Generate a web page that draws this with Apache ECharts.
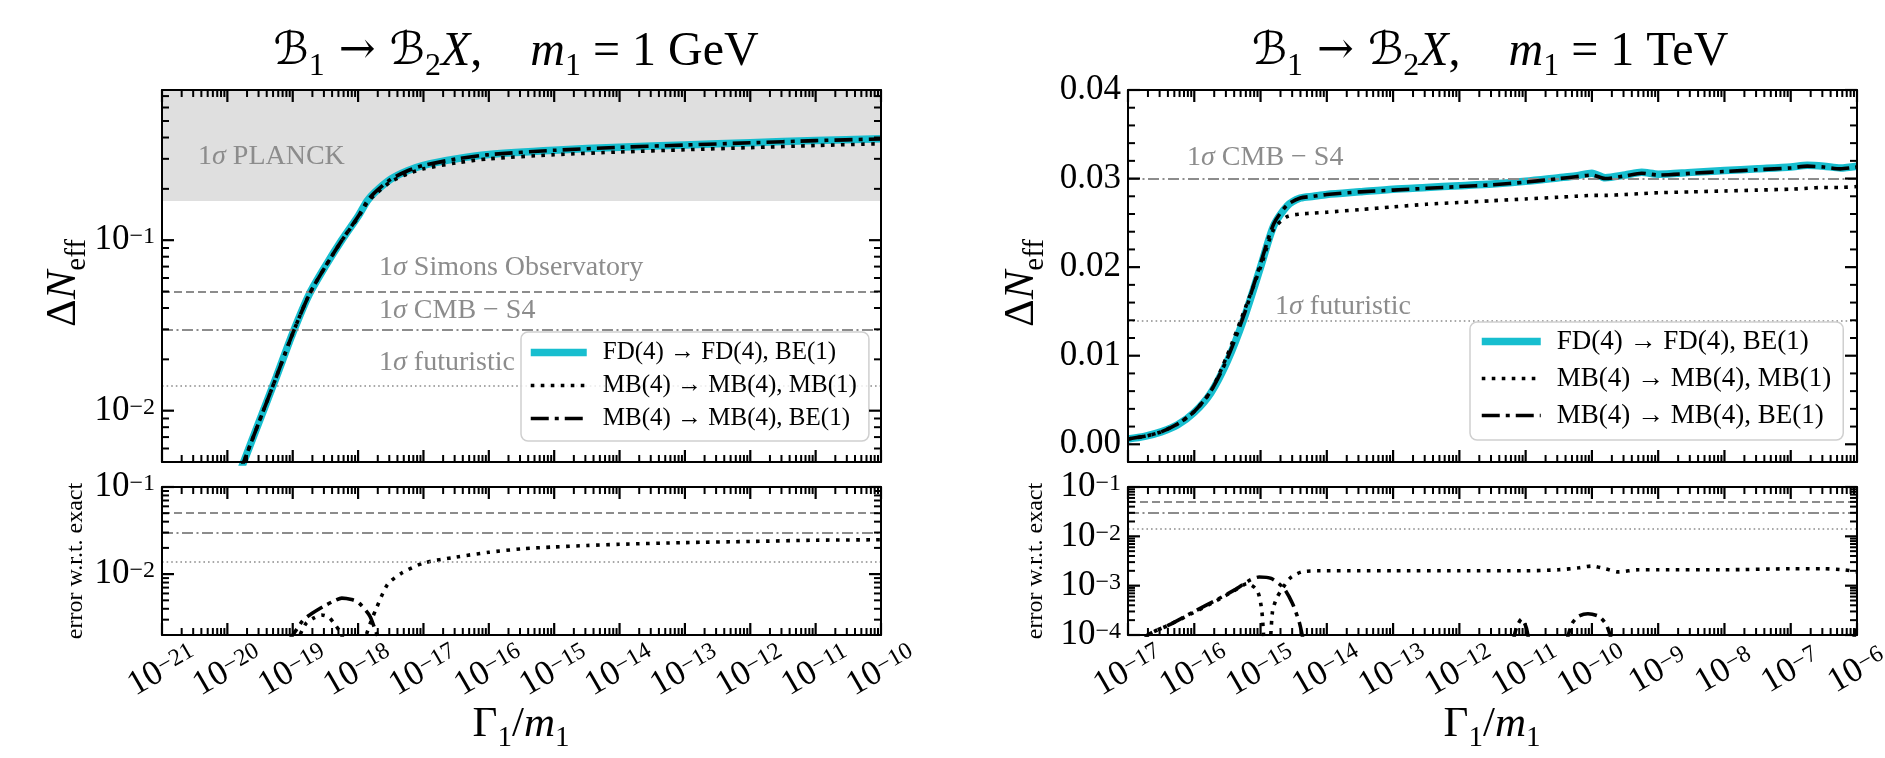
<!DOCTYPE html>
<html>
<head>
<meta charset="utf-8">
<title>ΔNeff for B1 → B2 X decays</title>
<script src="https://cdn.jsdelivr.net/npm/echarts@6.0.0/dist/echarts.min.js"></script>
<style>
  html, body { margin: 0; padding: 0; background: #ffffff; }
  #chart { width: 1885px; height: 758px; }
</style>
</head>
<body>
<div id="chart"></div>
<script>
// ---------------------------------------------------------------
// Data. x values are exponents: log10(Γ1/m1).
// ---------------------------------------------------------------

// m1 = 1 GeV, ΔNeff curves
const gevLogRate = [-20, -19.75, -19.5, -19.25, -19, -18.75, -18.5, -18.25, -18, -17.86, -17.75, -17.5, -17.25, -17, -16.5, -16, -15, -14, -13, -12, -11, -10];
const gevFD_FDBE = [0.0028, 0.005, 0.0089, 0.0158, 0.0285, 0.048, 0.0705, 0.100, 0.138, 0.170, 0.190, 0.228, 0.255, 0.275, 0.300, 0.318, 0.337, 0.351, 0.362, 0.373, 0.384, 0.393];
const gevMB_MBMB = [0.0028, 0.005, 0.0089, 0.0158, 0.0284, 0.0478, 0.0702, 0.0994, 0.136, 0.166, 0.184, 0.220, 0.244, 0.262, 0.284, 0.300, 0.317, 0.329, 0.339, 0.349, 0.359, 0.368];
const gevMB_MBBE = [0.0028, 0.005, 0.0089, 0.0158, 0.0284, 0.0478, 0.0701, 0.0995, 0.1375, 0.1695, 0.1895, 0.2275, 0.2545, 0.2745, 0.2995, 0.3175, 0.3365, 0.3505, 0.3615, 0.3725, 0.3835, 0.3925];

// m1 = 1 GeV, error w.r.t. exact
const gevErrDotRate = [-18.95, -18.8, -18.69, -18.56, -18.45, -18.38, -18.28, -18.2, -18.05, -17.92, -17.8, -17.73, -17.55, -17.33, -17, -16.5, -16, -15.5, -15, -14.5, -14, -13, -12, -11, -10];
const gevErrMBMB    = [0.0016, 0.0027, 0.0031, 0.0034, 0.0032, 0.0028, 0.0022, 0.0016, null, 0.0016, 0.0029, 0.0039, 0.0076, 0.0103, 0.0134, 0.0157, 0.0178, 0.0195, 0.0205, 0.0213, 0.0220, 0.0230, 0.0237, 0.0245, 0.0248];
const gevErrDashRate = [-19.1, -19.0, -18.85, -18.74, -18.52, -18.35, -18.25, -18.1, -17.99, -17.82, -17.73, -17.65];
const gevErrMBBE     = [0.0016, 0.0020, 0.0029, 0.0034, 0.0043, 0.0050, 0.0053, 0.0051, 0.0047, 0.0033, 0.0022, 0.0016];

// m1 = 1 TeV, ΔNeff curves
const tevLogRate = [-17, -16.75, -16.5, -16.25, -16, -15.75, -15.5, -15.25, -15, -14.8, -14.6, -14.4, -14.2, -14, -13.5, -13, -12.5, -12, -11.5, -11, -10.5, -10.25, -10, -9.8, -9.5, -9.25, -9, -8.5, -8, -7.5, -7, -6.75, -6.5, -6.25, -6];
const tevFD_FDBE = [0.0006, 0.0009, 0.0014, 0.0022, 0.0036, 0.0058, 0.0094, 0.0142, 0.0200, 0.0247, 0.0269, 0.0278, 0.0280, 0.0282, 0.0285, 0.0288, 0.0290, 0.0292, 0.0294, 0.0297, 0.0301, 0.0303, 0.0306, 0.0301, 0.0304, 0.0307, 0.0305, 0.0307, 0.0309, 0.0311, 0.0313, 0.0315, 0.0314, 0.0312, 0.0314];
const tevMB_MBMB = [0.0006, 0.0009, 0.0014, 0.0023, 0.0037, 0.0060, 0.0101, 0.0150, 0.0200, 0.0243, 0.0257, 0.0260, 0.0261, 0.0262, 0.0265, 0.0268, 0.0271, 0.0273, 0.0275, 0.0277, 0.0279, 0.0280, 0.0281, 0.0281, 0.0282, 0.0283, 0.0284, 0.0285, 0.0286, 0.0287, 0.0288, 0.0289, 0.0290, 0.0290, 0.0291];
const tevMB_MBBE = [0.0006, 0.0009, 0.0014, 0.0023, 0.0037, 0.0060, 0.0097, 0.0146, 0.0204, 0.0249, 0.0270, 0.0278, 0.0280, 0.0282, 0.0285, 0.0287, 0.0289, 0.0291, 0.0293, 0.0296, 0.0300, 0.0302, 0.0304, 0.0300, 0.0303, 0.0306, 0.0304, 0.0306, 0.0308, 0.0310, 0.0312, 0.0314, 0.0313, 0.0311, 0.0313];

// m1 = 1 TeV, error w.r.t. exact
const tevErrDotRate = [-16.8, -16.7, -16.38, -16.02, -15.66, -15.39, -15.2, -15.05, -14.98, -14.94, -14.9, -14.86, -14.82, -14.76, -14.7, -14.56, -14.38, -14.1, -13.5, -13, -12, -11, -10.5, -10.2, -10, -9.8, -9.6, -9.3, -9, -8, -7, -6.5, -6.2, -6];
const tevErrMBMB    = [0.00006, 0.0001, 0.00016, 0.00028, 0.0005, 0.0008, 0.0011, 0.0008, 0.0003, 0.00004, null, 0.00004, 0.0003, 0.00055, 0.00076, 0.0014, 0.0019, 0.0020, 0.0020, 0.0020, 0.0020, 0.0020, 0.0021, 0.0023, 0.0025, 0.0022, 0.0019, 0.0021, 0.0021, 0.0021, 0.0022, 0.0022, 0.0021, 0.0019];
const tevErrDashRate = [-16.8, -16.7, -16.38, -16.02, -15.66, -15.39, -15.16, -15.02, -14.84, -14.65, -14.52, -14.41, -14.34, -12, -11.2, -11.14, -11.06, -10.99, -10.94, -10.7, -10.4, -10.3, -10.2, -10.06, -9.9, -9.78, -9.68, -8, -6.08, -6];
const tevErrMBBE     = [0.00006, 0.0001, 0.00016, 0.00029, 0.00052, 0.00082, 0.0013, 0.0015, 0.0014, 0.00089, 0.00044, 0.00017, 0.00006, null, 0.00006, 0.00014, 0.00021, 0.00014, 0.00006, null, 0.00006, 0.00017, 0.00024, 0.00027, 0.00024, 0.00016, 0.00006, null, 0.00006, 0.00015];

// 1σ sensitivities on ΔNeff
const planck1Sigma = 0.17;
const simonsObs1Sigma = 0.05;
const cmbS41Sigma = 0.03;
const futuristic1Sigma = 0.014;

// axis ranges and tick labels
const gevRateTicks = [-21, -20, -19, -18, -17, -16, -15, -14, -13, -12, -11, -10];
const tevRateTicks = [-17, -16, -15, -14, -13, -12, -11, -10, -9, -8, -7, -6];
const gevNeffTicks = [0.01, 0.1];
const tevNeffTicks = [0, 0.01, 0.02, 0.03, 0.04];
const gevErrTicks = [0.01, 0.1];
const tevErrTicks = [0.0001, 0.001, 0.01, 0.1];

const gevRateRange = [-21, -10];
const tevRateRange = [-17, -6];
const gevNeffRange = [0.005, 0.76];
const gevErrRange = [0.002, 0.1];
const tevNeffRange = [-0.002, 0.04];
const tevErrRange = [0.0001, 0.1];

const seriesNames = ['FD(4) → FD(4), BE(1)', 'MB(4) → MB(4), MB(1)', 'MB(4) → MB(4), BE(1)'];

// ---------------------------------------------------------------
// Styling
// ---------------------------------------------------------------
const SERIF = "'Liberation Serif', 'DejaVu Serif', serif";
const SYMBOLS = "'DejaVu Serif', 'DejaVu Sans', serif";
const GREY = '#8c8c8c';
const CYAN = '#17becf';
const TICK_COLOR = '#000000';

const styleFD = { color: CYAN, width: 7.5, type: 'solid' };
const styleDot = { color: '#000', width: 3.6, type: [3.6, 6.4], cap: 'butt' };
const styleDashDot = { color: '#000', width: 3.6, type: [18, 6, 4, 6], cap: 'butt' };

const limitStyles = {
  dashed: { color: GREY, width: 1.8, type: [8, 4] },
  dashdot: { color: GREY, width: 1.8, type: [11, 3.5, 2, 3.5] },
  dotted: { color: GREY, width: 1.5, type: [1.6, 3] }
};

const tickRich = {
  b: { fontFamily: SERIF, fontSize: 35, lineHeight: 30, color: '#000' },
  s: { fontFamily: SERIF, fontSize: 24, lineHeight: 10, verticalAlign: 'top', color: '#000' }
};

// grid rectangles
const grids = [
  { left: 162, top: 90, width: 719, height: 372 },   // 1 GeV, ΔNeff
  { left: 162, top: 487, width: 719, height: 148 },  // 1 GeV, error
  { left: 1128, top: 90, width: 729, height: 372 },  // 1 TeV, ΔNeff
  { left: 1128, top: 487, width: 729, height: 148 }  // 1 TeV, error
];

// ---------------------------------------------------------------
// Tick positions
// ---------------------------------------------------------------
const num = v => parseFloat(v.toPrecision(6));

function logMinorValues(lo, hi) {
  const out = [];
  for (let e = Math.floor(Math.log10(lo)) - 1; e <= Math.ceil(Math.log10(hi)); e++) {
    for (let k = 2; k <= 9; k++) {
      const v = num(k * Math.pow(10, e));
      if (v > lo && v < hi) out.push(v);
    }
  }
  return out;
}
function expMinorValues(lo, hi) {
  const out = [];
  for (let e = lo; e < hi; e++) {
    for (let k = 2; k <= 9; k++) out.push(num(e + Math.log10(k)));
  }
  return out;
}
function linMinorValues(lo, hi, step, majors) {
  const out = [];
  for (let i = Math.ceil(lo / step); i * step <= hi + 1e-12; i++) {
    const v = num(i * step);
    if (v > lo && v < hi && !majors.some(m => Math.abs(m - v) < 1e-9)) out.push(v);
  }
  return out;
}
const powerLabel = e => `{b|10}{s|−${Math.round(-e)}}`;
const evenOf = arr => arr.filter((v, i) => i % 2 === 0);
const oddOf = arr => arr.filter((v, i) => i % 2 === 1);

// ---------------------------------------------------------------
// Axes: the frame on all four sides, labels on the bottom/left.
// Two axes share each side so neighbouring rotated labels never
// compete for space.
// ---------------------------------------------------------------
function frameAxes(dim, gridIndex, spec) {
  const sides = dim === 'x' ? ['bottom', 'top'] : ['left', 'right'];
  const common = {
    gridIndex, type: spec.type, min: spec.min, max: spec.max, z: 10, silent: true,
    splitLine: { show: false }, minorTick: { show: false }, minorSplitLine: { show: false },
    axisTick: { show: false }, nameMoveOverlap: false
  };
  if (spec.type === 'log') common.logBase = 10;
  const withLabels = values => Object.assign(
    { customValues: values, showMinLabel: true, showMaxLabel: true, hideOverlap: false }, spec.label);
  const labelSets = spec.label
    ? (spec.splitLabels ? [evenOf(spec.major), oddOf(spec.major)] : [spec.major, null])
    : [null, null];
  const out = [];
  sides.forEach((pos, k) => {
    out.push(Object.assign({}, common, {
      position: pos,
      axisLine: { show: true, onZero: false, lineStyle: { color: '#000', width: 2 } },
      axisLabel: (k === 0 && labelSets[0]) ? withLabels(labelSets[0]) : { show: false }
    }));
    out.push(Object.assign({}, common, {
      position: pos,
      axisLine: { show: false, onZero: false },
      axisLabel: (k === 0 && labelSets[1]) ? withLabels(labelSets[1]) : { show: false }
    }));
  });
  return out;
}

const xLabel = {
  show: true, rotate: 30, align: 'center', verticalAlign: 'middle', margin: 35,
  formatter: v => powerLabel(v), rich: tickRich
};
const yLogLabel = {
  show: true, margin: 7,
  formatter: v => powerLabel(Math.log10(v)), rich: tickRich
};
const yLinLabel = {
  show: true, margin: 7,
  formatter: v => `{b|${v.toFixed(2)}}`, rich: tickRich
};

const xAxes = [].concat(
  frameAxes('x', 0, { type: 'value', min: gevRateRange[0], max: gevRateRange[1] }),
  frameAxes('x', 1, { type: 'value', min: gevRateRange[0], max: gevRateRange[1], major: gevRateTicks, label: xLabel, splitLabels: true }),
  frameAxes('x', 2, { type: 'value', min: tevRateRange[0], max: tevRateRange[1] }),
  frameAxes('x', 3, { type: 'value', min: tevRateRange[0], max: tevRateRange[1], major: tevRateTicks, label: xLabel, splitLabels: true })
);
const yAxes = [].concat(
  frameAxes('y', 0, { type: 'log', min: gevNeffRange[0], max: gevNeffRange[1], major: gevNeffTicks, label: yLogLabel }),
  frameAxes('y', 1, { type: 'log', min: gevErrRange[0], max: gevErrRange[1], major: gevErrTicks, label: yLogLabel }),
  frameAxes('y', 2, { type: 'value', min: tevNeffRange[0], max: tevNeffRange[1], major: tevNeffTicks, label: yLinLabel }),
  frameAxes('y', 3, { type: 'log', min: tevErrRange[0], max: tevErrRange[1], major: tevErrTicks, label: yLogLabel })
);

// ---------------------------------------------------------------
// Series
// ---------------------------------------------------------------
function curve(name, xs, ys, g, lineStyle, z) {
  return {
    type: 'line', name, xAxisIndex: g * 4, yAxisIndex: g * 4,
    data: xs.map((x, i) => [x, ys[i] == null ? '-' : ys[i]]),
    symbol: 'none', showSymbol: false, smooth: 0.25,
    connectNulls: false, clip: true, lineStyle, z, silent: true
  };
}
function limits(name, g, lines, band) {
  const s = {
    type: 'line', name, xAxisIndex: g * 4, yAxisIndex: g * 4, data: [], z: 1, silent: true,
    markLine: {
      silent: true, symbol: ['none', 'none'], label: { show: false }, animation: false, precision: 6,
      data: lines.map(l => ({ yAxis: l.value, lineStyle: l.style }))
    }
  };
  if (band) {
    s.markArea = {
      silent: true, animation: false, precision: 6, itemStyle: { color: '#dfdfdf' },
      data: [[{ yAxis: band[0] }, { yAxis: band[1] }]]
    };
  }
  return s;
}

// Inward tick marks on all four sides: thin rectangles anchored on the
// frame at each tick value and pushed inside by half their length.
function tickMarks(g, xMajor, xMinor, yMajor, yMinor, xRange, yRange) {
  const data = [];
  const add = (x, y, size, offset) => data.push({ value: [x, y], symbolSize: size, symbolOffset: offset });
  const xT = (len, w) => v => {
    add(v, yRange[0], [w, len], [0, -len / 2]);
    add(v, yRange[1], [w, len], [0, len / 2]);
  };
  const yT = (len, w) => v => {
    add(xRange[0], v, [len, w], [len / 2, 0]);
    add(xRange[1], v, [len, w], [-len / 2, 0]);
  };
  xMajor.forEach(xT(12, 2.2));
  xMinor.forEach(xT(7, 2));
  yMajor.forEach(yT(12, 2.2));
  yMinor.forEach(yT(7, 2));
  return {
    type: 'scatter', name: 'ticks ' + g, xAxisIndex: g * 4, yAxisIndex: g * 4,
    coordinateSystem: 'cartesian2d',
    symbol: 'rect', itemStyle: { color: TICK_COLOR, opacity: 1 }, clip: false, silent: true,
    z: 30, large: false, animation: false, data
  };
}

const refLines = [
  { value: simonsObs1Sigma, style: limitStyles.dashed },
  { value: cmbS41Sigma, style: limitStyles.dashdot },
  { value: futuristic1Sigma, style: limitStyles.dotted }
];

const series = [
  limits('sensitivity 1 GeV', 0, refLines, [planck1Sigma, gevNeffRange[1]]),
  curve(seriesNames[0], gevLogRate, gevFD_FDBE, 0, styleFD, 3),
  curve(seriesNames[1], gevLogRate, gevMB_MBMB, 0, styleDot, 4),
  curve(seriesNames[2], gevLogRate, gevMB_MBBE, 0, styleDashDot, 5),
  tickMarks(0, gevRateTicks, expMinorValues(-21, -10), gevNeffTicks, logMinorValues(gevNeffRange[0], gevNeffRange[1]), gevRateRange, gevNeffRange),

  limits('sensitivity error 1 GeV', 1, refLines),
  curve('error MB/MB 1 GeV', gevErrDotRate, gevErrMBMB, 1, styleDot, 4),
  curve('error MB/BE 1 GeV', gevErrDashRate, gevErrMBBE, 1, styleDashDot, 5),
  tickMarks(1, gevRateTicks, expMinorValues(-21, -10), gevErrTicks, logMinorValues(gevErrRange[0], gevErrRange[1]), gevRateRange, gevErrRange),

  limits('sensitivity 1 TeV', 2, [
    { value: cmbS41Sigma, style: limitStyles.dashdot },
    { value: futuristic1Sigma, style: limitStyles.dotted }
  ]),
  curve(seriesNames[0], tevLogRate, tevFD_FDBE, 2, styleFD, 3),
  curve(seriesNames[1], tevLogRate, tevMB_MBMB, 2, styleDot, 4),
  curve(seriesNames[2], tevLogRate, tevMB_MBBE, 2, styleDashDot, 5),
  tickMarks(2, tevRateTicks, expMinorValues(-17, -6), tevNeffTicks, linMinorValues(tevNeffRange[0], tevNeffRange[1], 0.002, tevNeffTicks), tevRateRange, tevNeffRange),

  limits('sensitivity error 1 TeV', 3, refLines),
  curve('error MB/MB 1 TeV', tevErrDotRate, tevErrMBMB, 3, styleDot, 4),
  curve('error MB/BE 1 TeV', tevErrDashRate, tevErrMBBE, 3, styleDashDot, 5),
  tickMarks(3, tevRateTicks, expMinorValues(-17, -6), tevErrTicks, logMinorValues(tevErrRange[0], tevErrRange[1]), tevRateRange, tevErrRange)
];

// ---------------------------------------------------------------
// Legends
// ---------------------------------------------------------------
function legendBox(left, top, fontSize, gap, iconW, pad) {
  const icons = [styleFD, styleDot, styleDashDot];
  return {
    left, top, orient: 'vertical', selectedMode: false, z: 20,
    backgroundColor: 'rgba(255,255,255,0.82)', borderColor: '#cfcfcf', borderWidth: 1.5, borderRadius: 7,
    padding: pad, itemGap: gap, itemWidth: iconW, itemHeight: 16,
    textStyle: { fontFamily: SERIF, fontSize, color: '#000', padding: [0, 0, 0, 11] },
    data: seriesNames.map((n, i) => ({
      name: n,
      lineStyle: Object.assign({}, icons[i]),
      itemStyle: { opacity: 0, color: 'rgba(0,0,0,0)', borderWidth: 0 }
    }))
  };
}

// ---------------------------------------------------------------
// Titles, axis titles and annotations
// ---------------------------------------------------------------
const titleRich = {
  r: { fontFamily: SERIF, fontSize: 48, lineHeight: 62, fill: '#000' },
  a: { fontFamily: SYMBOLS, fontSize: 44, lineHeight: 62, fill: '#000' },
  i: { fontFamily: SERIF, fontSize: 48, lineHeight: 62, fontStyle: 'italic', fill: '#000' },
  c: { fontFamily: SYMBOLS, fontSize: 45, lineHeight: 62, fontStyle: 'italic', fill: '#000' },
  s: { fontFamily: SERIF, fontSize: 32, lineHeight: 38, verticalAlign: 'bottom', fill: '#000' }
};
const titleText = unit => `{c|ℬ}{s|1}{a| → }{c|ℬ}{s|2}{i|X}{r|,    }{i|m}{s|1}{r| = 1 ${unit}}`;

const axisTitleRich = {
  r: { fontFamily: SERIF, fontSize: 43, lineHeight: 56, fill: '#000' },
  i: { fontFamily: SERIF, fontSize: 43, lineHeight: 56, fontStyle: 'italic', fill: '#000' },
  s: { fontFamily: SERIF, fontSize: 29, lineHeight: 36, verticalAlign: 'bottom', fill: '#000' }
};
const rateTitle = (x, y) => ({
  type: 'text', x, y, z: 20, silent: true,
  style: { text: '{r|Γ}{s|1}{r|/}{i|m}{s|1}', rich: axisTitleRich, align: 'center', verticalAlign: 'middle' }
});
const neffTitle = (x, y) => ({
  type: 'text', x, y, z: 20, silent: true, rotation: Math.PI / 2,
  style: { text: '{r|Δ}{i|N}{s|eff}', rich: axisTitleRich, align: 'center', verticalAlign: 'middle' }
});
const errTitle = (x, y) => ({
  type: 'text', x, y, z: 20, silent: true, rotation: Math.PI / 2,
  style: { text: 'error w.r.t. exact', fontFamily: SERIF, fontSize: 24, fill: '#000', align: 'center', verticalAlign: 'middle' }
});

const noteRich = {
  n: { fontFamily: SERIF, fontSize: 28, fill: GREY },
  g: { fontFamily: SERIF, fontSize: 28, fontStyle: 'italic', fill: GREY }
};
const note = (x, y, label) => ({
  type: 'text', x, y, z: 8, silent: true,
  style: { text: `{n|1}{g|σ}{n| ${label}}`, rich: noteRich, align: 'left', verticalAlign: 'middle' }
});

const graphics = [
  { type: 'text', x: 516, y: 52, z: 20, silent: true,
    style: { text: titleText('GeV'), rich: titleRich, align: 'center', verticalAlign: 'middle' } },
  { type: 'text', x: 1490, y: 52, z: 20, silent: true,
    style: { text: titleText('TeV'), rich: titleRich, align: 'center', verticalAlign: 'middle' } },
  rateTitle(521, 725),
  rateTitle(1492, 725),
  neffTitle(64, 283),
  neffTitle(1022, 283),
  errTitle(76, 561),
  errTitle(1036, 561),
  note(198, 157, 'PLANCK'),
  note(379, 268, 'Simons Observatory'),
  note(379, 311, 'CMB − S4'),
  note(379, 363, 'futuristic'),
  note(1187, 158, 'CMB − S4'),
  note(1275, 307, 'futuristic')
];

// ---------------------------------------------------------------
// Chart
// ---------------------------------------------------------------
const chart = echarts.init(document.getElementById('chart'), null, { renderer: 'canvas' });
chart.setOption({
  animation: false,
  backgroundColor: '#ffffff',
  grid: grids.map(g => Object.assign({ containLabel: false, outerBoundsMode: 'none', show: false }, g)),
  xAxis: xAxes,
  yAxis: yAxes,
  legend: [
    legendBox(521, 332, 25, 8, 56, [8, 12, 10, 6]),
    legendBox(1470, 322, 27, 10, 59, [6, 12, 11, 8])
  ],
  graphic: graphics,
  series
});
</script>
</body>
</html>
